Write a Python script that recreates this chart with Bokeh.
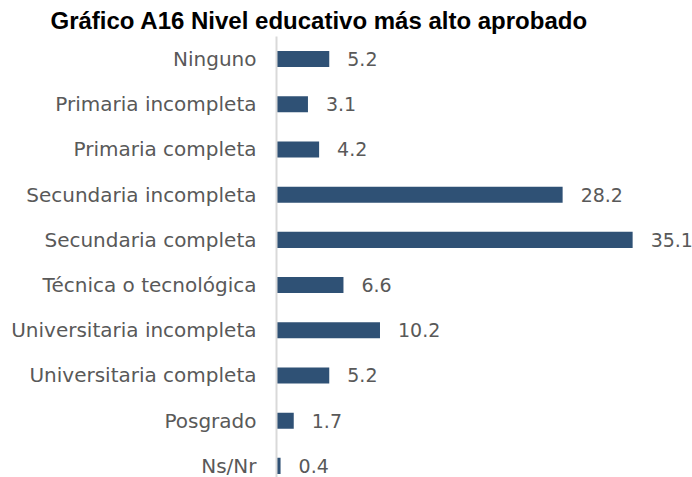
from bokeh.plotting import figure
from bokeh.models import Range1d, FixedTicker, ColumnDataSource
from bokeh.core.properties import value
from bokeh.embed import file_html
from bokeh.resources import INLINE

title_text = "Gráfico A16 Nivel educativo más alto aprobado"
categories = ["Ninguno", "Primaria incompleta", "Primaria completa",
              "Secundaria incompleta", "Secundaria completa",
              "Técnica o tecnológica", "Universitaria incompleta",
              "Universitaria completa", "Posgrado", "Ns/Nr"]
values = [5.2, 3.1, 4.2, 28.2, 35.1, 6.6, 10.2, 5.2, 1.7, 0.4]

labels = [f"{v:.1f}" for v in values]
positions = list(range(len(categories)))

BAR = "#2F5175"
TXT = "#595959"
FONT = "DejaVu Sans"

src = ColumnDataSource(dict(pos=positions, val=values, lab=labels))

p = figure(width=692, height=477, output_backend="svg", toolbar_location=None,
           x_range=Range1d(0, 41.0), y_range=Range1d(9.257, -0.5),
           x_axis_location=None,
           min_border_left=276, min_border_right=0, min_border_top=36,
           min_border_bottom=0)

p.hbar(y="pos", left=0, right="val", height=0.355, source=src,
       fill_color=BAR, line_color=None)
p.text(x="val", y="pos", text="lab", source=src, x_offset=18,
       text_baseline="middle", text_align="left",
       text_font=value(FONT), text_font_size="19px", text_color=TXT)

p.title.text = title_text
p.title.text_font = "Liberation Sans"
p.title.text_font_style = "bold"
p.title.text_font_size = "24px"
p.title.text_color = "#000000"
p.title.align = "left"
p.title.offset = -226
p.title.standoff = 6

ax = p.yaxis[0]
ax.ticker = FixedTicker(ticks=positions)
ax.major_label_overrides = {i: c for i, c in enumerate(categories)}
ax.major_tick_line_color = None
ax.minor_tick_line_color = None
ax.major_tick_out = 0
ax.major_label_standoff = 20
ax.axis_line_color = "#D9D9D9"
ax.axis_line_width = 2
ax.major_label_text_font = FONT
ax.major_label_text_font_size = "20px"
ax.major_label_text_color = TXT

p.xgrid.visible = False
p.ygrid.visible = False
p.outline_line_color = None
p.background_fill_color = "white"
p.border_fill_color = "white"

open("out.html", "w").write(file_html(p, INLINE))
